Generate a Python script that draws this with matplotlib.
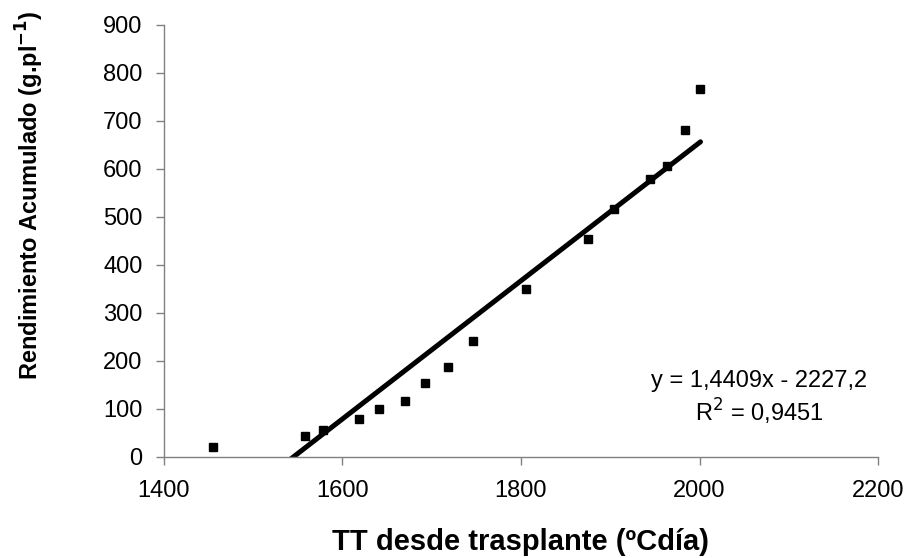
import numpy as np
import matplotlib
matplotlib.use("Agg")
import matplotlib.pyplot as plt

plt.rcParams['font.family'] = ['Liberation Sans', 'DejaVu Sans']

# datos
tt = [1455, 1558, 1578, 1619, 1641, 1670, 1693, 1718, 1746, 1806,
      1875, 1904, 1944, 1964, 1984, 2001]
rend = [21, 44, 56, 78, 100, 117, 153, 187, 242, 350,
        453, 517, 578, 605, 680, 765]
pendiente = 1.4409
ordenada = -2227.2
r2 = 0.9451
xticks = [1400, 1600, 1800, 2000, 2200]
yticks = [0, 100, 200, 300, 400, 500, 600, 700, 800, 900]

fig = plt.figure(figsize=(9.09, 5.58), dpi=100)
ax = fig.add_axes([163.5 / 909, 1 - 456.7 / 558, (878.3 - 163.5) / 909, (456.7 - 24.7) / 558])

ax.plot(tt, rend, 's', color='black', markersize=6, zorder=3)

xs = np.array([min(tt), max(tt)])
ax.plot(xs, pendiente * xs + ordenada, color='black', lw=3.6,
        solid_capstyle='round', zorder=2)

ax.set_xlim(1400, 2200)
ax.set_ylim(0, 900)
ax.set_xticks(xticks)
ax.set_yticks(yticks)
ax.tick_params(labelsize=17, length=6, width=1, color='#808080')
ax.tick_params(axis='x', pad=11)
ax.tick_params(axis='y', pad=9)

for s in ['top', 'right']:
    ax.spines[s].set_visible(False)
for s in ['left', 'bottom']:
    ax.spines[s].set_color('#808080')
    ax.spines[s].set_linewidth(1.0)

fig.text(520 / 909, 1 - 542 / 558, 'TT desde trasplante (ºCdía)',
         ha='center', va='center', fontsize=21, fontweight='bold')
fig.text(30 / 909, 1 - 195 / 558, 'Rendimiento Acumulado (g.pl$^{\\mathbf{-1}}$)',
         ha='center', va='center', rotation=90, fontsize=17, fontweight='bold')

eq = 'y = %sx - %s' % (str(pendiente).replace('.', ','), str(-ordenada).replace('.', ','))
r2_txt = 'R$^2$ = %s' % str(r2).replace('.', ',')
ax.text(759 / 909, 1 - 381 / 558, eq, transform=fig.transFigure,
        ha='center', va='center', fontsize=17)
ax.text(759 / 909, 1 - 412 / 558, r2_txt, transform=fig.transFigure,
        ha='center', va='center', fontsize=17)

fig.savefig('out.png', dpi=100)
